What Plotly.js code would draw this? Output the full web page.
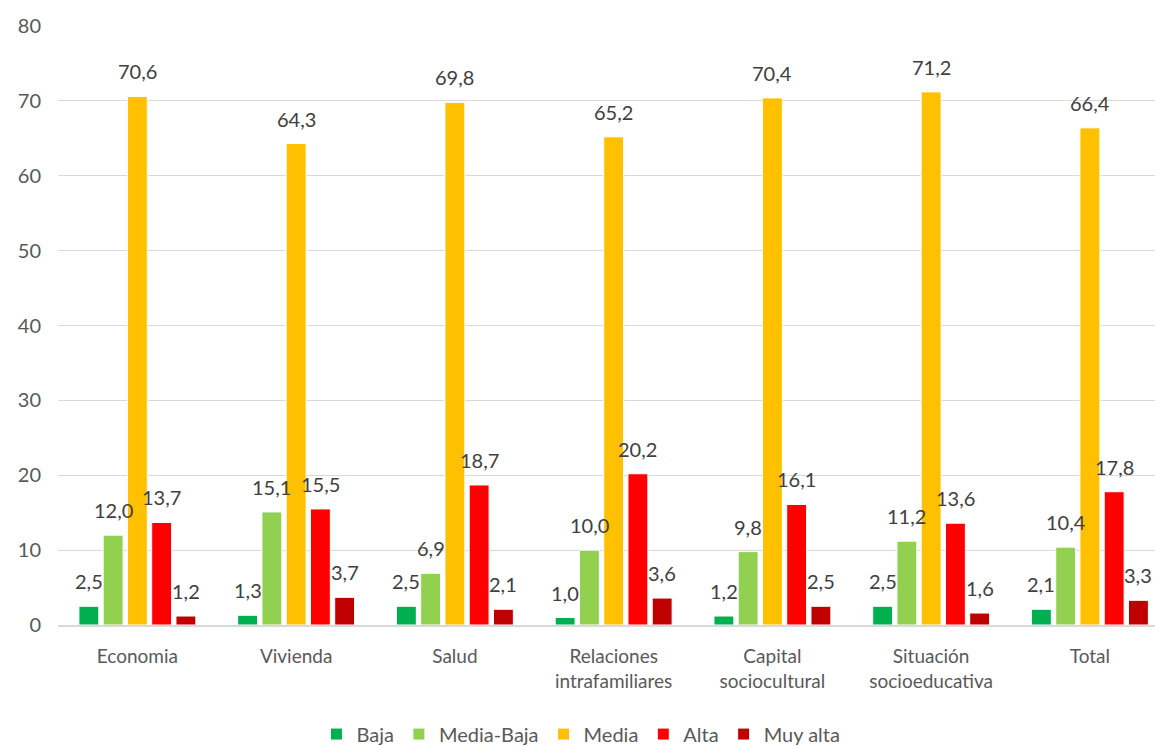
<!DOCTYPE html>
<html><head><meta charset="utf-8">
<script src="https://cdn.plot.ly/plotly-3.0.1.min.js"></script>
<style>html,body{margin:0;padding:0;background:#fff}#chart{width:1155px;height:746px}</style>
</head><body><div id="chart"></div>
<script>
const categories = ["Economia","Vivienda","Salud","Relaciones<br>intrafamiliares","Capital<br>sociocultural","Situación<br>socioeducativa","Total"];
const seriesNames = ["Baja","Media-Baja","Media","Alta","Muy alta"];
const baja = [2.5,1.3,2.5,1.0,1.2,2.5,2.1];
const mediaBaja = [12.0,15.1,6.9,10.0,9.8,11.2,10.4];
const media = [70.6,64.3,69.8,65.2,70.4,71.2,66.4];
const alta = [13.7,15.5,18.7,20.2,16.1,13.6,17.8];
const muyAlta = [1.2,3.7,2.1,3.6,2.5,1.6,3.3];
const colors = ["#00b050","#92d050","#ffc000","#ff0000","#c00000"];
const allValues = [baja, mediaBaja, media, alta, muyAlta];

const fontFam = "Lato, 'Open Sans', sans-serif";
const BARGAP = 0.236;
const nSeries = allValues.length;
const slot = (1 - BARGAP) / nSeries;

const traces = allValues.map((vals, i) => ({
  type: "bar",
  name: seriesNames[i],
  x: categories,
  y: vals,
  marker: {color: colors[i], line: {color: "#ffffff", width: 1}},
  hoverinfo: "skip"
}));

// Data labels drawn on top of all bars, positioned in axis coordinates
const annotations = [];
allValues.forEach((vals, i) => {
  vals.forEach((v, j) => {
    annotations.push({
      xref: "x", yref: "y",
      x: j + (i - (nSeries - 1) / 2) * slot,
      y: v,
      text: v.toFixed(1).replace(".", ","),
      showarrow: false,
      yanchor: "bottom", xanchor: "center",
      yshift: 11,
      font: {family: fontFam, size: 20, color: "#404040"}
    });
  });
});

const layout = {
  width: 1155, height: 746,
  margin: {l: 58, r: 0, t: 26, b: 121, autoexpand: false},
  paper_bgcolor: "#fff", plot_bgcolor: "#fff",
  barmode: "group",
  bargap: BARGAP,
  bargroupgap: 0.18,
  font: {family: fontFam, size: 20, color: "#595959"},
  xaxis: {
    type: "category",
    range: [-0.5, 6.41],
    showgrid: false, showline: true, linecolor: "#d9d9d9", linewidth: 1.5,
    ticks: "", ticklabelstandoff: 14,
    tickfont: {family: fontFam, size: 19, color: "#595959"}, automargin: false
  },
  yaxis: {
    range: [0, 80], dtick: 10, showgrid: true, gridcolor: "#d9d9d9", gridwidth: 1,
    zeroline: false, showline: false, ticks: "", ticklabelstandoff: 16, automargin: false,
    tickfont: {family: fontFam, size: 20, color: "#595959"}
  },
  annotations: annotations,
  showlegend: true,
  legend: {
    orientation: "h", xref: "container", x: 0.503, xanchor: "center",
    yref: "container", y: 0.016, yanchor: "middle",
    font: {family: fontFam, size: 20, color: "#595959"},
    traceorder: "normal"
  }
};
Plotly.newPlot("chart", traces, layout, {displayModeBar: false, staticPlot: true});
</script></body></html>
